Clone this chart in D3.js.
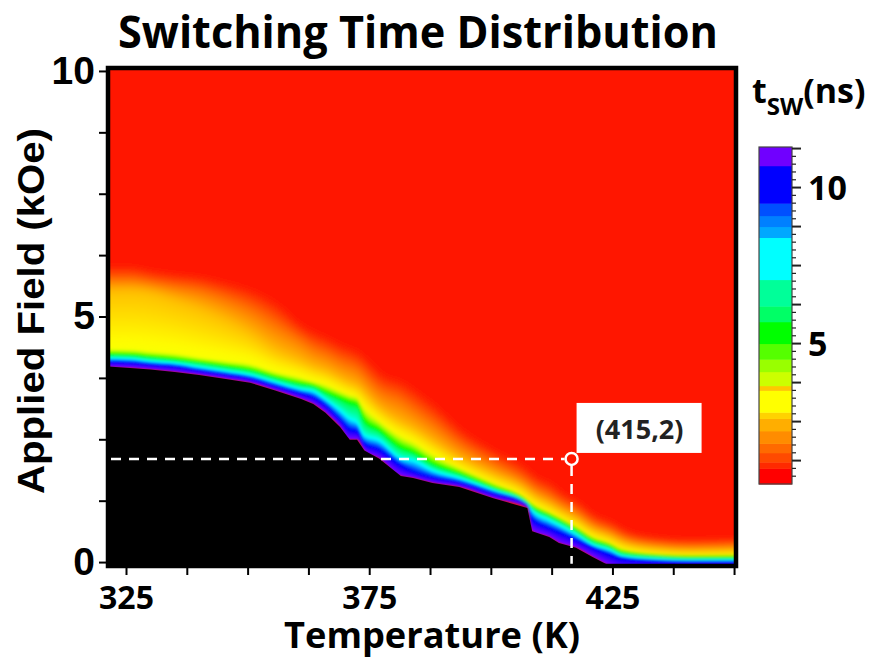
<!DOCTYPE html>
<html>
<head>
<meta charset="utf-8">
<script src="https://cdn.jsdelivr.net/npm/d3@7"></script>
<style>
  body { margin: 0; background: #fff; }
  svg { display: block; }
</style>
</head>
<body>
<div id="plot"></div>
<script>
// temperature columns (K) where the map was read
const temps = [321.3, 325.8, 330, 335, 340, 345.5, 350.5, 355.5, 361, 363.5, 366, 369, 371, 372.5, 374, 377,
  381.5, 384, 388, 393.5, 400.5, 407.5, 408.5, 412, 414, 417.5, 421, 424.5, 427, 434, 441, 450.4]

// field (kOe) at which t_sw reaches each level, one value per temperature
const hEdge = [3.98, 3.95, 3.92, 3.87, 3.81, 3.73, 3.65, 3.50, 3.32, 3.22, 3.04, 2.75, 2.49, 2.49, 2.27, 2.11,
  1.75, 1.71, 1.61, 1.53, 1.30, 1.10, 0.63, 0.51, 0.39, 0.29, 0.10, -0.08, -0.16, -0.16, -0.16, -0.16] // below = no switching
const h10 = [4.09, 4.07, 4.03, 3.99, 3.91, 3.83, 3.75, 3.60, 3.44, 3.36, 3.20, 2.91, 2.71, 2.67, 2.42, 2.30,
  1.98, 1.85, 1.73, 1.63, 1.41, 1.18, 0.90, 0.70, 0.62, 0.46, 0.30, 0.16, 0.08, 0.02, 0.00, 0.00]
const h75 = [4.17, 4.15, 4.10, 4.06, 3.98, 3.90, 3.82, 3.68, 3.53, 3.49, 3.33, 3.11, 2.94, 2.86, 2.60, 2.50,
  2.13, 2.09, 1.88, 1.72, 1.48, 1.21, 1.07, 0.87, 0.77, 0.58, 0.36, 0.26, 0.14, 0.08, 0.06, 0.06]
const h53 = [4.24, 4.22, 4.18, 4.13, 4.07, 3.99, 3.91, 3.77, 3.63, 3.59, 3.46, 3.34, 3.26, 3.22, 2.89, 2.69,
  2.34, 2.24, 2.00, 1.81, 1.53, 1.24, 1.14, 0.96, 0.86, 0.67, 0.45, 0.33, 0.20, 0.14, 0.10, 0.10]
const h32 = [4.38, 4.36, 4.32, 4.28, 4.20, 4.13, 4.07, 3.91, 3.79, 3.71, 3.65, 3.52, 3.44, 3.40, 3.20, 2.93,
  2.61, 2.49, 2.24, 1.96, 1.65, 1.32, 1.24, 1.06, 0.96, 0.77, 0.55, 0.43, 0.31, 0.20, 0.18, 0.20]
const h25 = [5.50, 5.54, 5.50, 5.34, 5.17, 4.93, 4.66, 4.32, 4.07, 3.95, 3.87, 3.71, 3.60, 3.56, 3.40, 3.10,
  2.81, 2.69, 2.43, 2.08, 1.75, 1.43, 1.34, 1.16, 1.04, 0.86, 0.63, 0.51, 0.39, 0.27, 0.23, 0.25]
const h18 = [5.70, 5.72, 5.66, 5.58, 5.50, 5.32, 5.10, 4.80, 4.48, 4.30, 4.20, 4.04, 3.96, 3.90, 3.74, 3.44,
  3.24, 3.06, 2.78, 2.36, 1.97, 1.58, 1.50, 1.32, 1.19, 1.00, 0.74, 0.61, 0.47, 0.32, 0.28, 0.32]
const hRed = [5.99, 5.99, 5.91, 5.84, 5.80, 5.68, 5.55, 5.30, 4.80, 4.68, 4.58, 4.42, 4.35, 4.28, 4.15, 3.85,
  3.68, 3.52, 3.22, 2.70, 2.25, 1.85, 1.75, 1.58, 1.40, 1.20, 0.92, 0.78, 0.62, 0.45, 0.40, 0.46]
const contourLevels = [11.2, 10, 7.5, 5.3, 3.2, 2.55, 1.8, 0.9] // ns, one per array above

// colour bar bands (ns)
const barEdges = [0.5, 1.0, 1.2, 1.5, 1.8, 2.2, 2.6, 2.8, 3.5, 3.65, 4.1, 4.5, 5.0, 5.7, 6.2, 7.05, 8.4, 8.75, 9.1, 9.5, 10.7, 11.3]
const barColors = ['#ff0000','#ff2a00','#ff4a00','#ff6a00','#ff8c00','#ffae00','#ffd200','#ffff00','#ffc800','#ccff00',
  '#99ff00','#55ff00','#00ff00','#00ff66','#00ff99','#00ffff','#00a8ff','#0080ff','#0050ff','#0000ff','#7000ff']

const xLabels = [325, 375, 425]
const yLabels = [0, 5, 10]
const barLabels = [5, 10]
const marker = {T: 416.6, H: 2.1, label: '(415,2)'}

const W = 878, H = 661
const svg = d3.select('#plot').append('svg').attr('width', W).attr('height', H)

const x = d3.scaleLinear().domain([321.3, 450.4]).range([108, 736])
const y = d3.scaleLinear().domain([-0.08, 10.06]).range([566, 68])
const cb = d3.scaleLinear().domain([0.5, 11.3]).range([484, 147])

// continuous colour for the map, through the middle of each bar band (skip the hairline band)
const mids = [], cols = []
barColors.forEach((c, i) => {
  if (barEdges[i+1] - barEdges[i] >= 0.2) {
    mids.push((barEdges[i] + barEdges[i+1]) / 2)
    cols.push(c)
  }
})
const heat = d3.scaleLinear().domain(mids).range(cols).clamp(true)

const defs = svg.append('defs')
defs.append('clipPath').attr('id', 'clip')
  .append('rect').attr('x', 108).attr('y', 68).attr('width', 628).attr('height', 498)
defs.append('filter').attr('id', 'soft')
  .attr('x', '-10%').attr('y', '-10%').attr('width', '120%').attr('height', '120%')
  .append('feGaussianBlur').attr('stdDeviation', 5)
defs.append('filter').attr('id', 'soft2')
  .attr('x', '-10%').attr('y', '-10%').attr('width', '120%').attr('height', '120%')
  .append('feGaussianBlur').attr('stdDeviation', 0.8)

const map = svg.append('g').attr('clip-path', 'url(#clip)')
map.append('rect')
  .attr('x', 108).attr('y', 68).attr('width', 628).attr('height', 498)
  .attr('fill', heat(contourLevels[contourLevels.length - 1]))

// fill between neighbouring contours with thin sub-bands, each painted up to the top
const contours = [hEdge, h10, h75, h53, h32, h25, h18, hRed]
const steps = 16
const bands = []
for (let i = 0; i < contours.length - 1; i++) {
  for (let k = 0; k < steps; k++) {
    const f = k / steps, g = (k + 0.5) / steps
    bands.push({
      outer: i >= 4,
      t: contourLevels[i] + (contourLevels[i+1] - contourLevels[i]) * g,
      h: temps.map((T, j) => contours[i][j] + (contours[i+1][j] - contours[i][j]) * f)
    })
  }
}
const last = temps.length - 1
// ends padded past the frame so the blur does not fade at the sides
const bandArea = d3.area()
  .x((d, j) => x(temps[j]) + (j === 0 ? -30 : j === last ? 30 : 0))
  .y0(d => y(d))
  .y1(y(10.06) - 30)
  .curve(d3.curveMonotoneX)

const inner = map.append('g').attr('filter', 'url(#soft2)')
inner.selectAll('.band').data(bands.filter(b => !b.outer)).enter().append('path')
  .attr('class', 'band')
  .attr('d', d => bandArea(d.h))
  .attr('fill', d => heat(d.t))
const outer = map.append('g').attr('filter', 'url(#soft)')
outer.selectAll('.band').data(bands.filter(b => b.outer)).enter().append('path')
  .attr('class', 'band')
  .attr('d', d => bandArea(d.h))
  .attr('fill', d => heat(d.t))

// no-switching region
map.append('path')
  .attr('d', d3.area().x((d, j) => x(temps[j]) + (j === last ? 30 : 0)).y0(y(-0.08) + 10).y1(d => y(d))(hEdge))
  .attr('fill', '#000')

// dashed guide lines and marker
const mx = x(marker.T), my = y(marker.H)
svg.append('line')
  .attr('x1', x(321.3) + 3).attr('x2', mx - 7).attr('y1', my).attr('y2', my)
  .attr('stroke', '#fff').attr('stroke-width', 2.5).attr('stroke-dasharray', '10,8')
svg.append('line')
  .attr('x1', mx).attr('x2', mx).attr('y1', my + 7).attr('y2', y(-0.08))
  .attr('stroke', '#fff').attr('stroke-width', 2.5).attr('stroke-dasharray', '10,8')
svg.append('circle')
  .attr('cx', mx).attr('cy', my).attr('r', 6)
  .attr('fill', 'none').attr('stroke', '#fff').attr('stroke-width', 2.5)
svg.append('rect')
  .attr('x', mx + 5).attr('y', my - 56).attr('width', 125).attr('height', 50)
  .attr('fill', '#fff')
svg.append('text')
  .attr('x', mx + 68).attr('y', my - 20)
  .attr('text-anchor', 'middle')
  .style('font-family', 'Open Sans').style('font-weight', 700).style('font-size', '27px')
  .attr('fill', '#222')
  .text(marker.label)

// frame
svg.append('rect')
  .attr('x', 108).attr('y', 68).attr('width', 628).attr('height', 498)
  .attr('fill', 'none').attr('stroke', '#000').attr('stroke-width', 4.5)

// axes
const yAxis = svg.append('g')
  .attr('transform', 'translate(108,0)')
  .call(d3.axisLeft(y).tickValues(d3.range(0, 10.01, 1.25)).tickSize(9).tickPadding(4)
    .tickFormat(d => yLabels.includes(d) ? d : ''))
yAxis.select('.domain').remove()
yAxis.selectAll('line').attr('stroke-width', 2)
yAxis.selectAll('text')
  .attr('fill', '#000')
  .style('font-family', 'Liberation Sans').style('font-weight', 700).style('font-size', '39px')

const xAxis = svg.append('g')
  .attr('transform', 'translate(0,566)')
  .call(d3.axisBottom(x).tickValues(d3.range(325, 450.1, 12.5)).tickSize(9).tickPadding(11)
    .tickFormat(d => xLabels.includes(d) ? d : ''))
xAxis.select('.domain').remove()
xAxis.selectAll('line').attr('stroke-width', 2)
xAxis.selectAll('text')
  .attr('fill', '#000')
  .style('font-family', 'Open Sans').style('font-weight', 700).style('font-size', '32px')

// titles
svg.append('text')
  .attr('x', 418).attr('y', 48)
  .attr('text-anchor', 'middle')
  .attr('textLength', 600).attr('lengthAdjust', 'spacingAndGlyphs')
  .style('font-family', 'Open Sans').style('font-weight', 700).style('font-size', '44px')
  .text('Switching Time Distribution')

svg.append('text')
  .attr('x', 432).attr('y', 648)
  .attr('text-anchor', 'middle')
  .attr('textLength', 296).attr('lengthAdjust', 'spacingAndGlyphs')
  .style('font-family', 'Open Sans').style('font-weight', 700).style('font-size', '35px')
  .text('Temperature (K)')

svg.append('text')
  .attr('transform', 'rotate(-90)')
  .attr('x', -311).attr('y', 44)
  .attr('text-anchor', 'middle')
  .attr('textLength', 366).attr('lengthAdjust', 'spacingAndGlyphs')
  .style('font-family', 'Liberation Sans').style('font-weight', 700).style('font-size', '37px')
  .text('Applied Field (kOe)')

// colour bar
const bar = svg.append('g')
bar.selectAll('rect').data(barColors).enter().append('rect')
  .attr('x', 759).attr('width', 33)
  .attr('y', (d, i) => cb(barEdges[i+1]))
  .attr('height', (d, i) => cb(barEdges[i]) - cb(barEdges[i+1]) + 0.5)
  .attr('fill', d => d)
bar.append('rect')
  .attr('x', 759).attr('y', cb(11.3)).attr('width', 33).attr('height', cb(0.5) - cb(11.3))
  .attr('fill', 'none').attr('stroke', '#444').attr('stroke-width', 1.2)

const minor = d3.range(0.75, 11.3, 0.25)
const isMajor = d => Math.abs(d / 1.25 - Math.round(d / 1.25)) < 0.01
bar.selectAll('.mtick').data(minor).enter().append('line')
  .attr('x1', 792).attr('x2', d => isMajor(d) ? 801 : 796)
  .attr('y1', d => cb(d)).attr('y2', d => cb(d))
  .attr('stroke', '#222').attr('stroke-width', d => isMajor(d) ? 2 : 1.2)

bar.selectAll('.blabel').data(barLabels).enter().append('text')
  .attr('x', 808).attr('y', d => cb(d) + 12)
  .style('font-family', 'Open Sans').style('font-weight', 700).style('font-size', '34px')
  .text(d => d)

const unit = svg.append('text')
  .attr('x', 752).attr('y', 103)
  .style('font-family', 'Open Sans').style('font-weight', 700).style('font-size', '34px')
unit.append('tspan').text('t')
unit.append('tspan').attr('dy', 12).style('font-size', '24px').text('SW')
unit.append('tspan').attr('dy', -12).text('(ns)')
</script>
</body>
</html>
